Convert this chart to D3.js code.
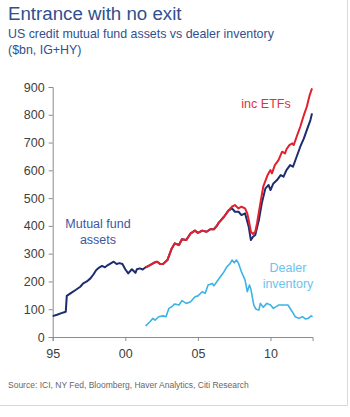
<!DOCTYPE html>
<html>
<head>
<meta charset="utf-8">
<script src="https://cdn.jsdelivr.net/npm/d3@7"></script>
<style>
  html, body { margin: 0; padding: 0; background: #fff; }
  svg { display: block; font-family: "Liberation Sans", Arial, sans-serif; }
</style>
</head>
<body>
<svg id="chart" width="350" height="417"></svg>
<script>
// ---- data ----
const mfDates = [1995.0,1995.3,1995.6,1995.9,1995.97,1996.3,1996.6,1996.9,1997.1,1997.35,1997.6,1997.8,1998.0,1998.2,1998.4,1998.6,1998.8,1999.0,1999.2,1999.4,1999.6,1999.8,2000.0,2000.2,2000.45,2000.7,2000.8,2001.0,2001.2,2001.4,2001.7,2002.0,2002.2,2002.4,2002.6,2002.9,2003.2,2003.4,2003.7,2003.9,2004.2,2004.5,2004.8,2005.0,2005.3,2005.6,2005.85,2006.1,2006.3,2006.4,2006.8,2007.1,2007.35,2007.55,2007.8,2008.0,2008.25,2008.5,2008.65,2008.8,2008.95,2009.2,2009.4,2009.65,2009.87,2010.0,2010.2,2010.45,2010.7,2010.9,2011.1,2011.35,2011.55,2011.8,2012.05,2012.3,2012.5,2012.75,2012.86];
const mfValues = [75,80,86,91,148,160,170,181,193,200,211,225,241,250,256,251,259,265,271,263,266,263,244,229,244,231,244,247,243,251,259,268,271,263,263,277,319,337,331,352,349,373,383,375,383,379,388,388,400,409,433,455,463,451,451,439,445,397,349,361,367,421,481,535,547,529,553,565,583,577,601,619,613,649,685,715,745,781,805];

const etfDates = [2001.4,2001.7,2002.0,2002.2,2002.4,2002.6,2002.9,2003.2,2003.4,2003.7,2003.9,2004.2,2004.5,2004.8,2005.0,2005.3,2005.6,2005.85,2006.1,2006.3,2006.4,2006.8,2007.1,2007.35,2007.55,2007.8,2008.0,2008.25,2008.4,2008.5,2008.65,2008.8,2008.95,2009.07,2009.3,2009.5,2009.8,2010.0,2010.1,2010.3,2010.55,2010.8,2011.0,2011.1,2011.3,2011.5,2011.6,2011.8,2012.05,2012.3,2012.5,2012.7,2012.86];
const etfValues = [251,259,268,271,263,263,277,319,337,331,352,349,373,383,375,383,379,388,388,400,409,433,455,469,475,463,469,463,445,421,379,371,379,409,481,541,583,601,589,619,637,667,661,676,691,697,691,721,757,799,829,871,895];

const dealerDates = [2001.4,2001.7,2001.9,2002.05,2002.3,2002.6,2002.8,2003.0,2003.2,2003.4,2003.7,2003.9,2004.2,2004.5,2004.8,2005.0,2005.3,2005.5,2005.7,2006.0,2006.1,2006.3,2006.55,2006.8,2007.0,2007.2,2007.35,2007.5,2007.65,2007.8,2008.0,2008.25,2008.4,2008.55,2008.65,2008.85,2009.0,2009.2,2009.3,2009.5,2009.75,2010.0,2010.2,2010.55,2010.9,2011.2,2011.5,2011.7,2011.95,2012.2,2012.4,2012.6,2012.8,2012.9];
const dealerValues = [40,55,67,61,73,76,73,103,109,119,115,131,121,127,145,148,163,157,187,193,184,199,217,235,253,263,277,267,277,265,235,205,163,187,172,115,100,97,121,107,121,115,103,115,115,115,91,73,67,73,65,67,76,73];

const yTicks = [0,100,200,300,400,500,600,700,800,900];
const xTickYears = [1995,2000,2005,2010];
const xTickLabels = ["95","00","05","10"];

// ---- layout ----
const svg = d3.select("#chart");
const x = d3.scaleLinear().domain([1995, 2012.9]).range([52.7, 312.6]);
const y = d3.scaleLinear().domain([0, 900]).range([337, 87]);

// frame
svg.append("line").attr("x1", 347.5).attr("x2", 347.5).attr("y1", 0).attr("y2", 405.5)
  .attr("stroke", "#d9d9d9").attr("stroke-width", 1);
svg.append("line").attr("x1", 0).attr("x2", 347.5).attr("y1", 405.5).attr("y2", 405.5)
  .attr("stroke", "#d9d9d9").attr("stroke-width", 1);

// titles
svg.append("text").attr("x", 8).attr("y", 20).attr("font-size", 18.7).attr("fill", "#30508f")
  .text("Entrance with no exit");
svg.append("text").attr("x", 8).attr("y", 38).attr("font-size", 12.4).attr("fill", "#30508f")
  .text("US credit mutual fund assets vs dealer inventory");
svg.append("text").attr("x", 8).attr("y", 54).attr("font-size", 12.4).attr("fill", "#30508f")
  .text("($bn, IG+HY)");

// axes
const yAxis = d3.axisLeft(y).tickValues(yTicks).tickSize(4).tickPadding(4);
const gy = svg.append("g").attr("transform", "translate(52.7,0)").call(yAxis);
const xAxis = d3.axisBottom(x).tickValues(xTickYears)
  .tickFormat((d, i) => xTickLabels[i]).tickSize(4).tickPadding(8);
const gx = svg.append("g").attr("transform", "translate(0,337)").call(xAxis);
[gy, gx].forEach(g => {
  g.select(".domain").attr("stroke", "#8c8c8c");
  g.selectAll(".tick line").attr("stroke", "#8c8c8c");
  g.selectAll(".tick text").attr("font-size", 12.5).attr("fill", "#404040")
    .attr("font-family", "'Liberation Sans', Arial, sans-serif");
});

// lines
const line = (dates) => d3.line().x((d, i) => x(dates[i])).y(d => y(d));
svg.append("path").datum(dealerValues).attr("d", line(dealerDates))
  .attr("fill", "none").attr("stroke", "#3cb2e6").attr("stroke-width", 1.6)
  .attr("stroke-linejoin", "round");
svg.append("path").datum(mfValues).attr("d", line(mfDates))
  .attr("fill", "none").attr("stroke", "#1c2c6e").attr("stroke-width", 2)
  .attr("stroke-linejoin", "round");
svg.append("path").datum(etfValues).attr("d", line(etfDates))
  .attr("fill", "none").attr("stroke", "#e3202c").attr("stroke-width", 2)
  .attr("stroke-linejoin", "round");

// annotations
svg.append("text").attr("x", 266).attr("y", 108).attr("text-anchor", "middle")
  .attr("font-size", 12.5).attr("fill", "#e3303a").text("inc ETFs");
const mfl = svg.append("text").attr("text-anchor", "middle").attr("font-size", 12.5).attr("fill", "#3d56a0");
mfl.append("tspan").attr("x", 98).attr("y", 228).text("Mutual fund");
mfl.append("tspan").attr("x", 98).attr("y", 244).text("assets");
const dl = svg.append("text").attr("text-anchor", "middle").attr("font-size", 12.5).attr("fill", "#6cc4ec");
dl.append("tspan").attr("x", 288).attr("y", 272).text("Dealer");
dl.append("tspan").attr("x", 288).attr("y", 288).text("inventory");

// source
svg.append("text").attr("x", 8).attr("y", 388).attr("font-size", 8.5).attr("fill", "#666")
  .text("Source: ICI, NY Fed, Bloomberg, Haver Analytics, Citi Research");
</script>
</body>
</html>
